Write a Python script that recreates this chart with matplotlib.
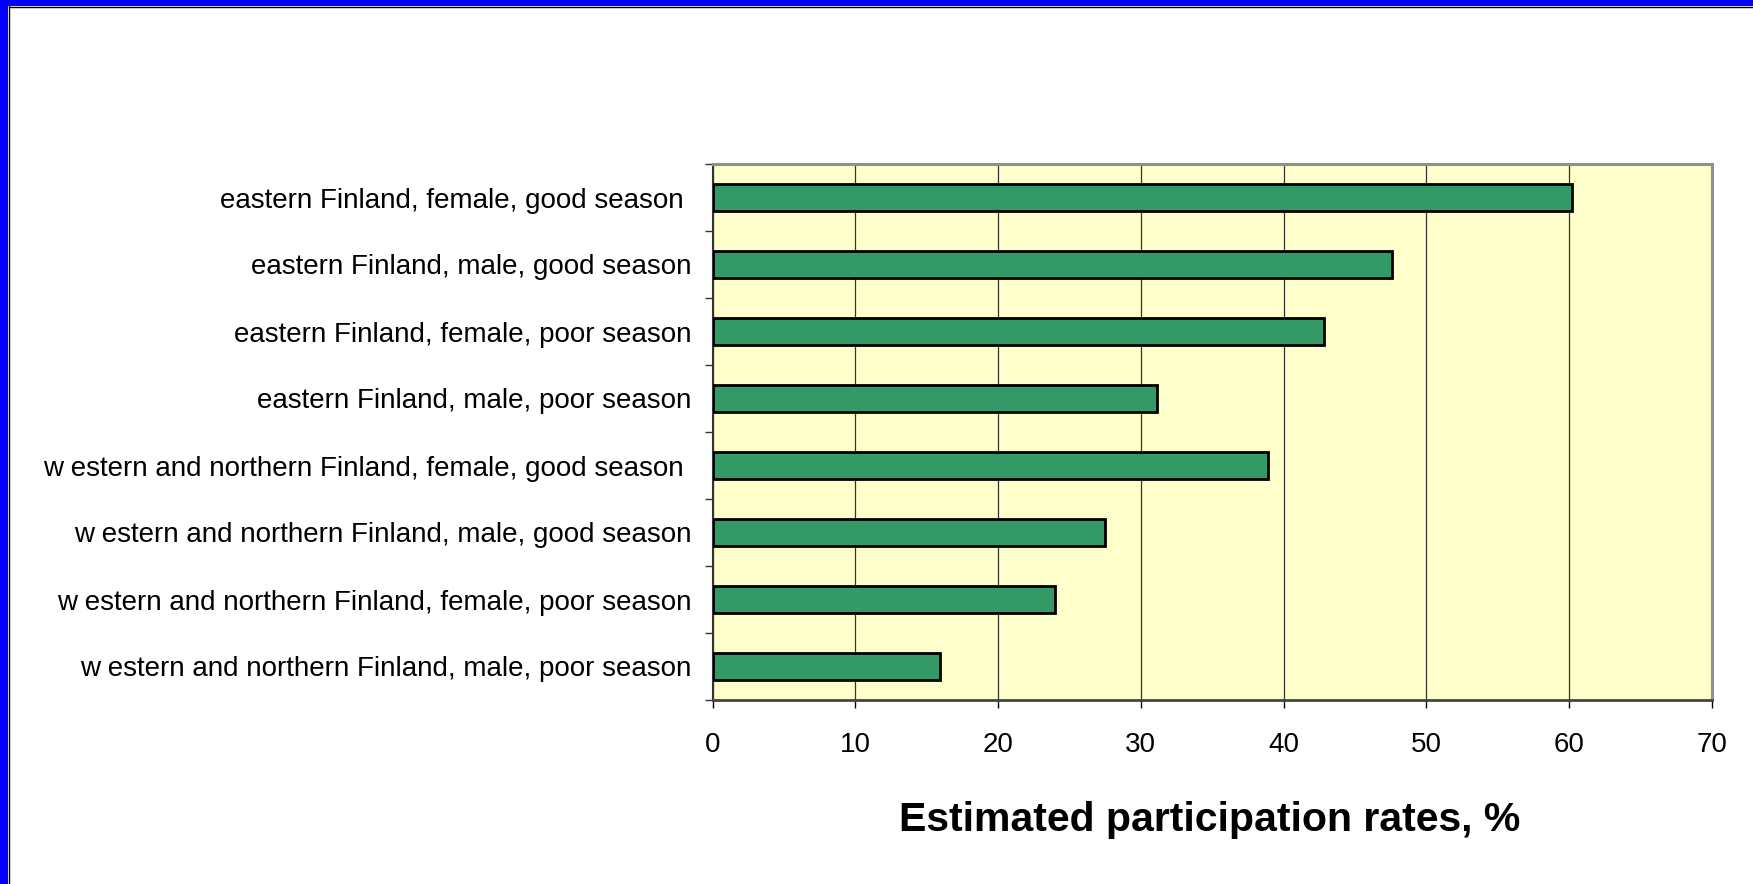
import matplotlib.pyplot as plt
from matplotlib.patches import Rectangle
from matplotlib.lines import Line2D

# ============================================================
# DATA
# ============================================================

groups = [
    "eastern Finland, female, good season ",
    "eastern Finland, male, good season",
    "eastern Finland, female, poor season",
    "eastern Finland, male, poor season",
    "w estern and northern Finland, female, good season ",
    "w estern and northern Finland, male, good season",
    "w estern and northern Finland, female, poor season",
    "w estern and northern Finland, male, poor season",
]

rates = [60.2, 47.6, 42.8, 31.1, 38.9, 27.5, 24.0, 15.9]

x_ticks = [0, 10, 20, 30, 40, 50, 60, 70]

# ============================================================
# FIGURE
# ============================================================

W, H = 1753, 884
plt.rcParams["font.family"] = ["Liberation Sans", "DejaVu Sans"]

fig = plt.figure(figsize=(W / 100, H / 100), dpi=100)
fig.patch.set_facecolor("white")

ax = fig.add_axes([
    712.5 / W,
    1 - 700 / H,
    (1712 - 712.5) / W,
    (700 - 164) / H,
])

ax.set_facecolor("#FFFFCC")

pos = list(range(len(groups)))

ax.barh(
    pos,
    rates,
    height=0.4,
    color="#339966",
    edgecolor="black",
    linewidth=2,
    zorder=3,
)

ax.set_xlim(0, 70)
ax.set_ylim(len(groups) - 0.5, -0.5)

ax.set_xticks(x_ticks)
ax.set_xticklabels([str(t) for t in x_ticks], fontsize=20)

# category labels at bar centres, ticks at category boundaries
ax.set_yticks(pos)
ax.set_yticklabels(groups, fontsize=20)
ax.tick_params(axis="y", which="major", length=0, pad=15)
ax.set_yticks([p - 0.5 for p in pos] + [len(groups) - 0.5], minor=True)
ax.tick_params(axis="y", which="minor", length=6, width=1.0, color="#333333", direction="out")
ax.tick_params(axis="x", length=6, width=1.0, color="black", pad=17)

ax.grid(axis="x", color="#333333", linewidth=0.9, zorder=1)
ax.set_axisbelow(True)

for side in ["top", "right"]:
    ax.spines[side].set_color("#909090")
    ax.spines[side].set_linewidth(2.2)
ax.spines["left"].set_color("#333333")
ax.spines["left"].set_linewidth(1.5)
ax.spines["bottom"].set_color("#444444")
ax.spines["bottom"].set_linewidth(2)

fig.text(
    1210 / W,
    1 - 820 / H,
    "Estimated participation rates, %",
    fontsize=29.5,
    fontweight="bold",
    ha="center",
    va="center",
)

# blue frame on left and top edges
fig.add_artist(Rectangle((0, 0), 8 / W, 1, transform=fig.transFigure,
                         facecolor="#0000FF", edgecolor="none"))
fig.add_artist(Rectangle((0, 1 - 6 / H), 1, 6 / H, transform=fig.transFigure,
                         facecolor="#0000FF", edgecolor="none"))
fig.add_artist(Line2D([8.5 / W, 8.5 / W], [0, 1 - 6 / H], transform=fig.transFigure,
                      color="black", linewidth=1))
fig.add_artist(Line2D([8.5 / W, 1], [1 - 6.5 / H, 1 - 6.5 / H], transform=fig.transFigure,
                      color="black", linewidth=1))

fig.savefig("out.png", dpi=100)
